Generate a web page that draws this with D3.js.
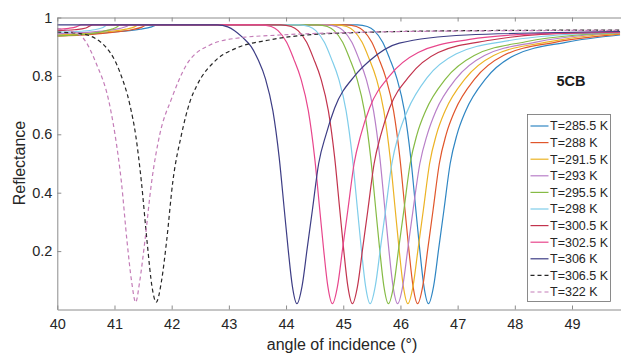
<!DOCTYPE html>
<html>
<head>
<meta charset="utf-8">
<script src="https://cdn.jsdelivr.net/npm/d3@7"></script>
<style>
  body { margin: 0; background: #fff; }
  svg { display: block; font-family: "Liberation Sans", Arial, sans-serif; }
  .axis path, .axis line { stroke: #8c8c8c; }
  .axis text { fill: #262626; font-size: 14.5px; }
</style>
</head>
<body>
<svg id="chart"></svg>
<script>
// legend labels, colours and dash flags
var labels = ["T=285.5 K", "T=288 K", "T=291.5 K", "T=293 K", "T=295.5 K", "T=298 K",
              "T=300.5 K", "T=302.5 K", "T=306 K", "T=306.5 K", "T=322 K"];
var colors = ["#2f86c3", "#e0562b", "#ecb325", "#b87fc8", "#86bb45", "#7fcdea",
              "#c2334d", "#e8468c", "#3d3d85", "#262626", "#c47db8"];
var dashed = [false, false, false, false, false, false, false, false, false, true, true];

var xTicks = [40, 41, 42, 43, 44, 45, 46, 47, 48, 49];
var yTicks = [0.2, 0.4, 0.6, 0.8, 1];

// [angle, reflectance]
var r2855 = [[40,0.94],[40.6,0.944],[41.1,0.952],[41.45,0.96],[41.65,0.968],[41.75,0.975],[45.25,0.975],[45.42,0.969],
  [45.54,0.955],[45.69,0.915],[45.81,0.86],[45.94,0.79],[46.07,0.68],[46.18,0.52],[46.27,0.34],[46.34,0.2],[46.41,0.08],[46.49,0.02],
  [46.58,0.08],[46.67,0.21],[46.76,0.34],[46.87,0.5],[46.99,0.6],[47.14,0.68],[47.49,0.79],[47.99,0.87],[48.89,0.915],[49.84,0.94]];
var r288 = [[40,0.936],[40.6,0.942],[41.0,0.95],[41.3,0.958],[41.48,0.967],[41.57,0.975],[45.06,0.975],[45.23,0.969],
  [45.35,0.955],[45.5,0.915],[45.62,0.86],[45.75,0.79],[45.88,0.68],[45.99,0.52],[46.08,0.34],[46.15,0.2],[46.22,0.08],[46.30,0.02],
  [46.39,0.08],[46.48,0.21],[46.57,0.34],[46.68,0.5],[46.8,0.6],[46.95,0.68],[47.3,0.79],[47.8,0.87],[48.7,0.915],[49.84,0.943]];
var r2915 = [[40,0.94],[40.5,0.945],[40.9,0.952],[41.2,0.96],[41.35,0.968],[41.42,0.975],[44.89,0.975],[45.06,0.969],
  [45.18,0.955],[45.33,0.915],[45.45,0.86],[45.58,0.79],[45.71,0.68],[45.82,0.52],[45.91,0.34],[45.98,0.2],[46.05,0.08],[46.13,0.02],
  [46.22,0.08],[46.31,0.21],[46.40,0.34],[46.51,0.5],[46.63,0.6],[46.78,0.68],[47.13,0.79],[47.63,0.87],[48.53,0.915],[49.43,0.94],[49.84,0.945]];
var r293 = [[40,0.945],[40.5,0.949],[40.85,0.955],[41.1,0.963],[41.22,0.97],[41.27,0.975],[44.71,0.975],[44.88,0.969],
  [45.0,0.955],[45.15,0.915],[45.27,0.86],[45.4,0.79],[45.53,0.68],[45.64,0.52],[45.73,0.34],[45.8,0.2],[45.87,0.08],[45.95,0.02],
  [46.04,0.08],[46.13,0.21],[46.22,0.34],[46.34,0.5],[46.47,0.6],[46.62,0.68],[46.97,0.79],[47.47,0.87],[48.35,0.915],[49.25,0.94],[49.84,0.947]];
var r2955 = [[40,0.937],[40.45,0.942],[40.75,0.95],[40.95,0.96],[41.05,0.968],[41.1,0.975],[44.55,0.975],[44.72,0.969],
  [44.84,0.955],[44.99,0.915],[45.11,0.86],[45.24,0.79],[45.37,0.68],[45.48,0.52],[45.57,0.34],[45.64,0.2],[45.71,0.08],[45.79,0.02],
  [45.88,0.08],[45.97,0.21],[46.06,0.34],[46.17,0.5],[46.29,0.6],[46.44,0.68],[46.79,0.79],[47.29,0.87],[48.19,0.917],[49.09,0.94],[49.84,0.948]];
var r298 = [[40,0.95],[40.4,0.953],[40.65,0.958],[40.8,0.966],[40.88,0.975],[44.23,0.975],[44.4,0.969],
  [44.52,0.955],[44.67,0.915],[44.79,0.86],[44.92,0.79],[45.05,0.68],[45.16,0.52],[45.25,0.34],[45.32,0.2],[45.39,0.08],[45.47,0.02],
  [45.56,0.08],[45.65,0.21],[45.74,0.34],[45.85,0.5],[45.97,0.6],[46.12,0.68],[46.47,0.795],[46.97,0.875],[47.87,0.92],[48.77,0.94],[49.84,0.949]];
var r3005 = [[40,0.955],[40.3,0.958],[40.5,0.964],[40.62,0.975],[43.91,0.975],[44.09,0.969],
  [44.21,0.955],[44.36,0.915],[44.48,0.86],[44.61,0.79],[44.74,0.68],[44.85,0.52],[44.94,0.34],[45.01,0.2],[45.08,0.08],[45.16,0.02],
  [45.25,0.08],[45.34,0.21],[45.43,0.34],[45.54,0.5],[45.66,0.6],[45.81,0.69],[46.16,0.8],[46.66,0.88],[47.56,0.922],[48.46,0.942],[49.84,0.95]];
var r3025 = [[40,0.96],[40.2,0.963],[40.33,0.968],[40.42,0.975],[43.56,0.975],[43.74,0.969],
  [43.86,0.955],[44.01,0.915],[44.13,0.86],[44.26,0.79],[44.39,0.68],[44.5,0.52],[44.59,0.34],[44.66,0.2],[44.73,0.08],[44.81,0.02],
  [44.9,0.08],[44.99,0.21],[45.08,0.34],[45.19,0.5],[45.31,0.6],[45.46,0.69],[45.81,0.8],[46.31,0.88],[47.21,0.925],[48.11,0.942],[49.84,0.951]];
var r306 = [[40,0.975],[42.8,0.975],[42.98,0.968],[43.1,0.955],[43.25,0.93],[43.39,0.9],[43.51,0.856],[43.64,0.79],[43.77,0.68],[43.88,0.52],
  [43.97,0.34],[44.04,0.2],[44.11,0.08],[44.19,0.02],
  [44.28,0.08],[44.37,0.21],[44.46,0.34],[44.57,0.5],[44.7,0.6],[44.85,0.69],[45.2,0.8],[45.45,0.85],[45.98,0.912],[47.15,0.94],[49.84,0.952]];
var r3065 = [[40,0.95],[40.4,0.945],[40.75,0.917],[41.09,0.815],[41.27,0.7],[41.37,0.598],[41.47,0.438],[41.57,0.232],[41.66,0.073],[41.73,0.025],
  [41.82,0.095],[41.91,0.232],[42.02,0.438],[42.17,0.598],[42.32,0.712],[42.43,0.763],[42.78,0.855],[43.13,0.895],[43.71,0.923],[44.88,0.946],[47.2,0.955],[49.84,0.957]];
var r322 = [[40,0.962],[40.25,0.952],[40.45,0.93],[40.69,0.838],[40.89,0.723],[41.01,0.598],[41.12,0.438],[41.22,0.232],[41.3,0.095],[41.37,0.025],
  [41.44,0.095],[41.53,0.232],[41.65,0.438],[41.79,0.598],[42.0,0.723],[42.25,0.835],[42.67,0.906],[43.13,0.929],[43.89,0.94],[45.2,0.949],[47.2,0.954],[49.84,0.956]];

var series = [r2855, r288, r2915, r293, r2955, r298, r3005, r3025, r306, r3065, r322];

var W = 621, H = 354;
var svg = d3.select('#chart').attr('width', W).attr('height', H);

var x = d3.scaleLinear().domain([40, 50]).range([57.3, 629.2]);
var y = d3.scaleLinear().domain([0, 1]).range([309.5, 17.5]);

// curves
var line = d3.line()
    .x(function(d) { return x(d[0]); })
    .y(function(d) { return y(d[1]); })
    .curve(d3.curveMonotoneX);

svg.append('g').selectAll('path')
    .data(series)
    .enter().append('path')
    .attr('fill', 'none')
    .attr('stroke', function(d, i) { return colors[i]; })
    .attr('stroke-width', 1.2)
    .attr('stroke-dasharray', function(d, i) { return dashed[i] ? '4,3' : null; })
    .attr('d', line);

// axes, ticks pointing inward
svg.append('g')
    .attr('class', 'axis')
    .attr('transform', 'translate(0,' + y(0) + ')')
    .call(d3.axisBottom(x).tickValues(xTicks).tickSizeInner(-4).tickSizeOuter(0).tickPadding(9));

svg.append('g')
    .attr('class', 'axis')
    .attr('transform', 'translate(0,' + y(1) + ')')
    .call(d3.axisTop(x).tickValues(xTicks).tickSizeInner(-4).tickSizeOuter(0).tickFormat(''));

svg.append('g')
    .attr('class', 'axis')
    .attr('transform', 'translate(' + x(40) + ',0)')
    .call(d3.axisLeft(y).tickValues(yTicks).tickSizeInner(-4).tickSizeOuter(0).tickPadding(5)
          .tickFormat(function(d) { return d === 1 ? '1' : d3.format('.1f')(d); }));

// axis titles
svg.append('text')
    .attr('x', 342).attr('y', 350)
    .attr('text-anchor', 'middle')
    .attr('fill', '#262626')
    .style('font-size', '16px')
    .text('angle of incidence (°)');

svg.append('text')
    .attr('transform', 'translate(25,163) rotate(-90)')
    .attr('text-anchor', 'middle')
    .attr('fill', '#262626')
    .style('font-size', '16px')
    .text('Reflectance');

svg.append('text')
    .attr('x', 571).attr('y', 86)
    .attr('text-anchor', 'middle')
    .attr('fill', '#1a1a1a')
    .style('font-size', '14.5px')
    .style('font-weight', 'bold')
    .text('5CB');

// legend
var lg = svg.append('g').attr('transform', 'translate(527.5,114.5)');
lg.append('rect')
    .attr('width', 83).attr('height', 187)
    .attr('fill', '#fff').attr('stroke', '#6e6e6e').attr('stroke-width', 0.8);

var rows = lg.selectAll('g.row')
    .data(labels)
    .enter().append('g')
    .attr('class', 'row')
    .attr('transform', function(d, i) { return 'translate(0,' + (11.5 + i * 16.6) + ')'; });

rows.append('line')
    .attr('x1', 3).attr('x2', 21)
    .attr('stroke', function(d, i) { return colors[i]; })
    .attr('stroke-width', 1.2)
    .attr('stroke-dasharray', function(d, i) { return dashed[i] ? '4,3' : null; });

rows.append('text')
    .attr('x', 22.5).attr('dy', '0.35em')
    .attr('fill', '#262626')
    .style('font-size', '12.5px')
    .text(function(d) { return d; });
</script>
</body>
</html>
